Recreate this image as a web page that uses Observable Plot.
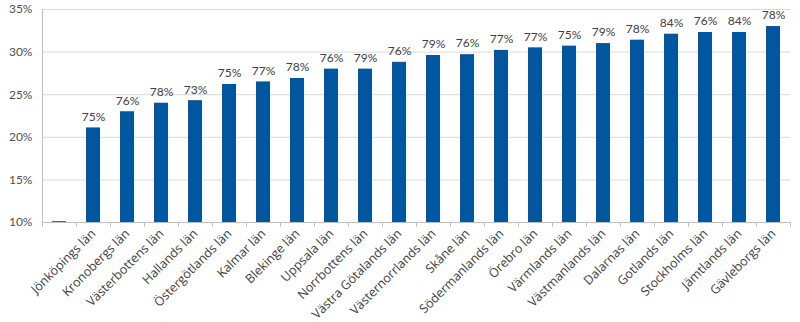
<!DOCTYPE html>
<html>
<head>
<meta charset="utf-8">
<script src="https://cdn.jsdelivr.net/npm/d3@7"></script>
<script src="https://cdn.jsdelivr.net/npm/@observablehq/plot@0.6"></script>
<style>
  html, body { margin: 0; padding: 0; background: #fff; }
</style>
</head>
<body>
<div id="chart"></div>
<script>
const categories = ["", "Jönköpings län", "Kronobergs län", "Västerbottens län", "Hallands län", "Östergötlands län", "Kalmar län", "Blekinge län", "Uppsala län", "Norrbottens län", "Västra Götalands län", "Västernorrlands län", "Skåne län", "Södermanlands län", "Örebro län", "Värmlands län", "Västmanlands län", "Dalarnas län", "Gotlands län", "Stockholms län", "Jämtlands län", "Gävleborgs län"];
const values = [10.1, 21.1, 23.0, 24.0, 24.3, 26.2, 26.5, 26.9, 28.0, 28.0, 28.8, 29.6, 29.7, 30.2, 30.5, 30.7, 31.0, 31.4, 32.1, 32.3, 32.3, 33.0];
const barLabels = ["", "75%", "76%", "78%", "73%", "75%", "77%", "78%", "76%", "79%", "76%", "79%", "76%", "77%", "77%", "75%", "79%", "78%", "84%", "76%", "84%", "78%"];
const yTicks = [10, 15, 20, 25, 30, 35];

const data = categories.map((c, i) => ({name: c, value: values[i], label: barLabels[i]}));

const chart = Plot.plot({
  width: 800,
  height: 322,
  marginLeft: 42,
  marginRight: 10,
  marginTop: 9,
  marginBottom: 100,
  style: {fontFamily: "Lato, sans-serif", color: "#404040", background: "#fff"},
  x: {domain: categories, paddingInner: 0.6, paddingOuter: 0.3, label: null},
  y: {domain: [10, 35], label: null},
  marks: [
    Plot.gridY(yTicks, {stroke: "#d9d9d9", strokeOpacity: 1}),
    Plot.ruleY([10], {stroke: "#bfbfbf"}),
    Plot.ruleX([categories[0]], {y1: 10, y2: 35, dx: -17, stroke: "#bfbfbf"}),
    Plot.ruleX(categories, {y1: 10, y2: 9.45, dx: -17, stroke: "#bfbfbf"}),
    Plot.ruleX([categories[categories.length - 1]], {y1: 10, y2: 9.45, dx: 17, stroke: "#bfbfbf"}),
    Plot.barY(data, {x: "name", y1: 10, y2: "value", fill: "#01579f"}),
    Plot.text(data, {x: "name", y: "value", text: "label", dy: -11, fontSize: 12, fill: "#404040"}),
    Plot.axisY({ticks: yTicks, tickFormat: d => d + "%", tickSize: 0, tickPadding: 10, fontSize: 12, fill: "#505050"}),
    Plot.axisX({tickRotate: -45, tickSize: 0, tickPadding: 9, fontSize: 12.5, fontFamily: "Open Sans, sans-serif", fill: "#404040"})
  ]
});
document.getElementById("chart").appendChild(chart);
</script>
</body>
</html>
